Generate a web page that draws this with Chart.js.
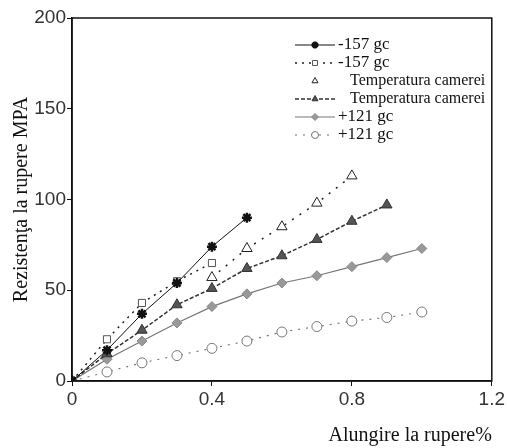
<!DOCTYPE html>
<html>
<head>
<meta charset="utf-8">
<script src="https://cdn.jsdelivr.net/npm/chart.js@4.4.1/dist/chart.umd.min.js"></script>
<style>
  html, body { margin: 0; padding: 0; background: #fff; }
  #wrap { width: 507px; height: 448px; position: relative; }
</style>
</head>
<body>
<div id="wrap"><canvas id="chart"></canvas></div>
<script>
// valori (alungire %, rezistenta MPA)
const seriesLabels = ['-157 gc', '-157 gc', 'Temperatura camerei', 'Temperatura camerei', '+121 gc', '+121 gc'];

const m157SolidX = [0, 0.1, 0.2, 0.3, 0.4, 0.5];
const m157SolidY = [0, 17, 37, 54, 74, 90];

const m157DotX = [0, 0.1, 0.2, 0.3, 0.4];
const m157DotY = [0, 23, 43, 55, 65];

const tempOpenX = [0.4, 0.5, 0.6, 0.7, 0.8];
const tempOpenY = [57, 73, 85, 98, 113];

const tempFillX = [0, 0.1, 0.2, 0.3, 0.4, 0.5, 0.6, 0.7, 0.8, 0.9];
const tempFillY = [0, 15, 28, 42, 51, 62, 69, 78, 88, 97];

const p121SolidX = [0, 0.1, 0.2, 0.3, 0.4, 0.5, 0.6, 0.7, 0.8, 0.9, 1.0];
const p121SolidY = [0, 12, 22, 32, 41, 48, 54, 58, 63, 68, 73];

const p121DotX = [0, 0.1, 0.2, 0.3, 0.4, 0.5, 0.6, 0.7, 0.8, 0.9, 1.0];
const p121DotY = [0, 5, 10, 14, 18, 22, 27, 30, 33, 35, 38];

const yTicks = [0, 50, 100, 150, 200];
const xTicks = [0, 0.4, 0.8, 1.2];

const toPoints = (xs, ys) => xs.map((x, i) => ({ x: x, y: ys[i] }));

const datasets = [
    { label: seriesLabels[0], data: toPoints(m157SolidX, m157SolidY),
      borderColor: '#111', borderWidth: 1, pointStyle: 'star', pointRadius: 5,
      pointBorderColor: '#111', pointBorderWidth: 2.5, pointBackgroundColor: '#111', legendLine: true },
    { label: seriesLabels[1], data: toPoints(m157DotX, m157DotY),
      borderColor: '#222', borderWidth: 1.5, borderDash: [2, 5], pointStyle: 'rect', pointRadius: 5,
      pointBorderColor: '#555', pointBorderWidth: 1, pointBackgroundColor: '#fff', legendLine: true },
    { label: seriesLabels[2], data: toPoints(tempOpenX, tempOpenY),
      borderColor: '#222', borderWidth: 1.5, borderDash: [2, 7], pointStyle: 'triangle', pointRadius: 6,
      pointBorderColor: '#222', pointBorderWidth: 1, pointBackgroundColor: '#fff', legendLine: false },
    { label: seriesLabels[3], data: toPoints(tempFillX, tempFillY),
      borderColor: '#333', borderWidth: 1.5, borderDash: [4, 2], pointStyle: 'triangle', pointRadius: 6,
      pointBorderColor: '#333', pointBorderWidth: 1, pointBackgroundColor: '#555', legendLine: true },
    { label: seriesLabels[4], data: toPoints(p121SolidX, p121SolidY),
      borderColor: '#777', borderWidth: 1.2, pointStyle: 'rectRot', pointRadius: 5,
      pointBorderColor: '#888', pointBorderWidth: 1, pointBackgroundColor: '#999', legendLine: true },
    { label: seriesLabels[5], data: toPoints(p121DotX, p121DotY),
      borderColor: '#777', borderWidth: 1.2, borderDash: [2, 6], pointStyle: 'circle', pointRadius: 5,
      pointBorderColor: '#777', pointBorderWidth: 1, pointBackgroundColor: '#fff', legendLine: true }
];

// legenda desenata in interiorul graficului + cadru complet
const boxLegend = {
    id: 'boxLegend',
    afterDraw(chart) {
        const ctx = chart.ctx;
        const a = chart.chartArea;
        ctx.save();
        ctx.strokeStyle = '#111';
        ctx.lineWidth = 1.5;
        ctx.strokeRect(a.left, a.top, a.right - a.left, a.bottom - a.top);

        const x0 = 295, x1 = 335, yStart = 45, rowH = 18;
        ctx.textBaseline = 'middle';
        ctx.fillStyle = '#111';
        chart.data.datasets.forEach((ds, i) => {
            const y = yStart + i * rowH;
            if (ds.legendLine) {
                ctx.save();
                ctx.strokeStyle = ds.borderColor;
                ctx.lineWidth = ds.borderWidth;
                ctx.setLineDash(ds.borderDash || []);
                ctx.beginPath();
                ctx.moveTo(x0, y);
                ctx.lineTo(x1, y);
                ctx.stroke();
                ctx.restore();
            }
            ctx.save();
            ctx.strokeStyle = ds.pointBorderColor;
            ctx.fillStyle = ds.pointBackgroundColor;
            ctx.lineWidth = ds.pointBorderWidth;
            Chart.helpers.drawPoint(ctx, { pointStyle: ds.pointStyle, radius: 3.5, rotation: 0, borderWidth: ds.pointBorderWidth },
                (x0 + x1) / 2, y);
            ctx.restore();
            const isTemp = ds.label.startsWith('Temp');
            ctx.font = (isTemp ? '16px' : '17px') + ' "Liberation Serif", serif';
            ctx.fillText(ds.label, isTemp ? 350 : 338, y);
        });
        ctx.restore();
    }
};

new Chart(document.getElementById('chart'), {
    type: 'scatter',
    data: { datasets: datasets.map(d => Object.assign({ showLine: true, fill: false, tension: 0 }, d)) },
    options: {
        responsive: true,
        maintainAspectRatio: false,
        animation: false,
        layout: { padding: { top: 18, right: 6, left: 10, bottom: 0 } },
        plugins: { legend: { display: false }, tooltip: { enabled: false } },
        scales: {
            x: {
                type: 'linear', min: 0, max: 1.2,
                afterBuildTicks: s => { s.ticks = xTicks.map(v => ({ value: v })); },
                grid: { drawOnChartArea: false, tickLength: 5, color: '#111', tickColor: '#111' },
                border: { color: '#111', width: 1.5 },
                ticks: { color: '#333', font: { family: '"Liberation Sans", sans-serif', size: 19 }, padding: 2,
                         callback: v => String(v) },
                title: { display: true, text: 'Alungire la rupere%', align: 'end', color: '#111',
                         font: { family: '"Liberation Serif", serif', size: 20 }, padding: { top: 4, bottom: 0 } },
                afterFit: s => { s.height = 67; }
            },
            y: {
                type: 'linear', min: 0, max: 200,
                afterBuildTicks: s => { s.ticks = yTicks.map(v => ({ value: v })); },
                grid: { drawOnChartArea: false, tickLength: 5, color: '#111', tickColor: '#111' },
                border: { color: '#111', width: 1.5 },
                ticks: { color: '#333', font: { family: '"Liberation Sans", sans-serif', size: 19 }, padding: 1 },
                title: { display: true, text: 'Rezistenţa la rupere MPA', color: '#111',
                         font: { family: '"Liberation Serif", serif', size: 20 }, padding: { top: 0, bottom: 0 } },
                afterFit: s => { s.width = 62; }
            }
        }
    },
    plugins: [boxLegend]
});
</script>
</body>
</html>
